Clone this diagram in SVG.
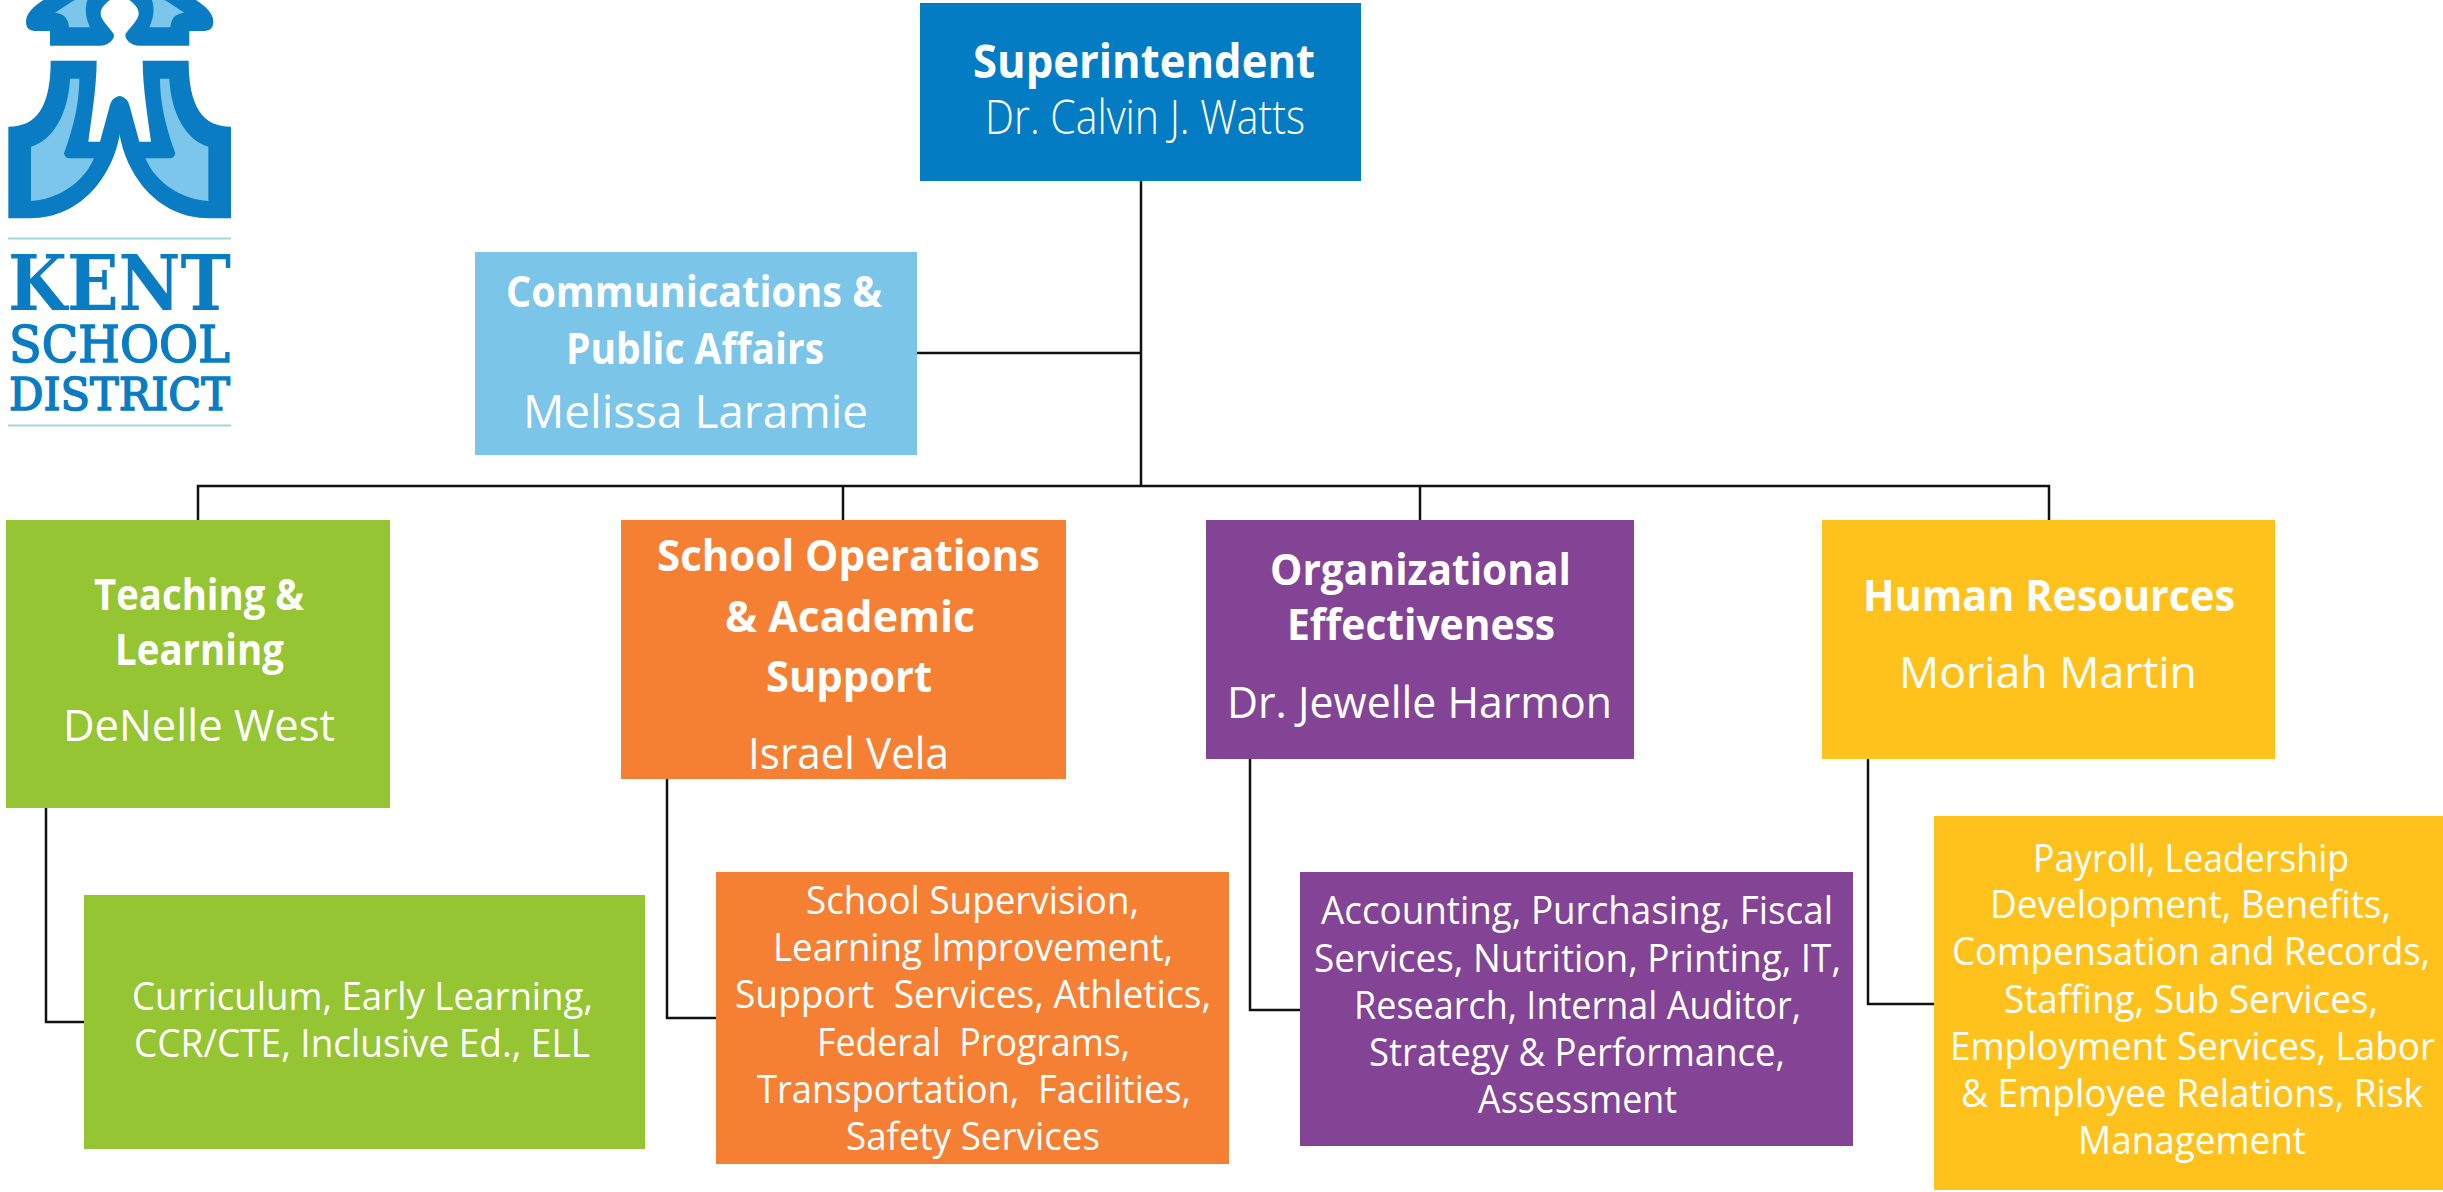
<svg xmlns="http://www.w3.org/2000/svg" width="2443" height="1192" viewBox="0 0 2443 1192">
<style>
text{font-family:"Open Sans","Noto Sans","Liberation Sans",sans-serif;fill:#fff;white-space:pre}
.h{font-weight:700;font-size:43px}
.n{font-weight:400;font-size:44px}
.l{font-weight:300;font-size:48px}
.s{font-weight:400;font-size:37.500px}
.c{fill:none;stroke:#111;stroke-width:2.5}
.d{fill:#0a7cc4}.f{fill:#7bc6ea}
.g text{font-family:"DejaVu Serif","Liberation Serif",serif;font-weight:400;fill:#0a7cc4;stroke:#0a7cc4;stroke-width:1.6}
</style>
<g id="logo" class="g">
<g transform="scale(0.33333)">
<g id="half"><path class="d" d="M130 0C100 20 78 40 78 65C78 85 90 93 110 93L150 93L150 137L300 137C325 137 342 120 342 105C340 95 300 60 302 40C303 20 320 8 330 0Z"/><path class="f" d="M215 5L165 38C190 42 200 50 205 70L207 82L270 82C258 55 253 30 262 0L225 0Z"/><path class="d" d="M152 182L290 182C290 260 275 350 265 425L300 425L330 315C335 298 345 290 360 288L360 400C340 520 250 655 90 655L25 655L25 380C110 380 152 320 152 182Z"/><path class="f" d="M210 236L238 236C238 300 225 370 192 460C195 472 200 475 210 475L282 475C250 550 170 600 93 603L93 440C160 420 205 340 210 236Z"/></g>
<use href="#half" transform="matrix(-1 0 0 1 718 0)"/>
</g>
<rect x="8" y="237.500" width="223" height="2" fill="#a3d3df"/>
<rect x="8" y="424.500" width="223" height="2" fill="#a3d3df"/>
<text x="8" y="310" textLength="223" lengthAdjust="spacingAndGlyphs" style="font-size:77px;font-weight:700;stroke-width:0">KENT</text>
<text x="9" y="362" textLength="221" lengthAdjust="spacingAndGlyphs" style="font-size:51px">SCHOOL</text>
<text x="9" y="410" textLength="221" lengthAdjust="spacingAndGlyphs" style="font-size:45px">DISTRICT</text>
</g>
<g id="connectors">
<path class="c" d="M1141 181V486M917 353H1141M198 520V486H2049V520M843 486V520M1420 486V520"/>
<path class="c" d="M46 808V1022H84M667 779V1018H716M1250 759V1010H1300M1868 759V1004H1934"/>
</g>
<g id="superintendent"><rect x="920" y="3" width="441" height="178" fill="#047cc4"/>
<text class="h" style="font-size:46px" x="973" y="78" textLength="342" lengthAdjust="spacingAndGlyphs">Superintendent</text>
<text class="l" x="985" y="134" textLength="320" lengthAdjust="spacingAndGlyphs">Dr. Calvin J. Watts</text></g>
<g id="communications"><rect x="475" y="252" width="442" height="203" fill="#7ac5e8"/>
<text class="h" x="506" y="307" textLength="376" lengthAdjust="spacingAndGlyphs">Communications &amp;</text>
<text class="h" x="566" y="364" textLength="258" lengthAdjust="spacingAndGlyphs">Public Affairs</text>
<text class="n" style="font-size:46px" x="523" y="428" textLength="345" lengthAdjust="spacingAndGlyphs">Melissa Laramie</text></g>
<g id="teaching"><rect x="6" y="520" width="384" height="288" fill="#95c533"/>
<text class="h" x="94" y="610" textLength="210" lengthAdjust="spacingAndGlyphs">Teaching &amp;</text>
<text class="h" x="115" y="665" textLength="169" lengthAdjust="spacingAndGlyphs">Learning</text>
<text class="n" x="63" y="741" textLength="272" lengthAdjust="spacingAndGlyphs">DeNelle West</text></g>
<g id="teaching-units"><rect x="84" y="895" width="561" height="254" fill="#95c533"/>
<text class="s" x="132" y="1010" textLength="461" lengthAdjust="spacingAndGlyphs">Curriculum, Early Learning,</text>
<text class="s" x="134" y="1057" textLength="456" lengthAdjust="spacingAndGlyphs">CCR/CTE, Inclusive Ed., ELL</text></g>
<g id="operations"><rect x="621" y="520" width="445" height="259" fill="#f58033"/>
<text class="h" x="657" y="571" textLength="383" lengthAdjust="spacingAndGlyphs">School Operations</text>
<text class="h" x="725" y="632" textLength="250" lengthAdjust="spacingAndGlyphs">&amp; Academic</text>
<text class="h" x="766" y="692" textLength="166" lengthAdjust="spacingAndGlyphs">Support</text>
<text class="n" x="748" y="769" textLength="201" lengthAdjust="spacingAndGlyphs">Israel Vela</text></g>
<g id="operations-units"><rect x="716" y="872" width="513" height="292" fill="#f58033"/>
<text class="s" x="806" y="914" textLength="333" lengthAdjust="spacingAndGlyphs">School Supervision,</text>
<text class="s" x="773" y="961" textLength="400" lengthAdjust="spacingAndGlyphs">Learning Improvement,</text>
<text class="s" x="735" y="1008" textLength="476" lengthAdjust="spacingAndGlyphs">Support  Services, Athletics,</text>
<text class="s" x="817" y="1056" textLength="313" lengthAdjust="spacingAndGlyphs">Federal  Programs,</text>
<text class="s" x="757" y="1103" textLength="434" lengthAdjust="spacingAndGlyphs">Transportation,  Facilities,</text>
<text class="s" x="846" y="1150" textLength="254" lengthAdjust="spacingAndGlyphs">Safety Services</text></g>
<g id="effectiveness"><rect x="1206" y="520" width="428" height="239" fill="#834496"/>
<text class="h" x="1270" y="585" textLength="301" lengthAdjust="spacingAndGlyphs">Organizational</text>
<text class="h" x="1287" y="640" textLength="268" lengthAdjust="spacingAndGlyphs">Effectiveness</text>
<text class="n" x="1227" y="718" textLength="385" lengthAdjust="spacingAndGlyphs">Dr. Jewelle Harmon</text></g>
<g id="effectiveness-units"><rect x="1300" y="872" width="553" height="274" fill="#834496"/>
<text class="s" x="1321" y="924" textLength="512" lengthAdjust="spacingAndGlyphs">Accounting, Purchasing, Fiscal</text>
<text class="s" x="1314" y="972" textLength="527" lengthAdjust="spacingAndGlyphs">Services, Nutrition, Printing, IT,</text>
<text class="s" x="1354" y="1019" textLength="447" lengthAdjust="spacingAndGlyphs">Research, Internal Auditor,</text>
<text class="s" x="1369" y="1066" textLength="416" lengthAdjust="spacingAndGlyphs">Strategy &amp; Performance,</text>
<text class="s" x="1478" y="1113" textLength="199" lengthAdjust="spacingAndGlyphs">Assessment</text></g>
<g id="human-resources"><rect x="1822" y="520" width="453" height="239" fill="#ffc21c"/>
<text class="h" x="1863" y="611" textLength="372" lengthAdjust="spacingAndGlyphs">Human Resources</text>
<text class="n" x="1899" y="688" textLength="298" lengthAdjust="spacingAndGlyphs">Moriah Martin</text></g>
<g id="human-resources-units"><rect x="1934" y="816" width="509" height="374" fill="#ffc21c"/>
<text class="s" x="2033" y="872" textLength="316" lengthAdjust="spacingAndGlyphs">Payroll, Leadership</text>
<text class="s" x="1990" y="918" textLength="401" lengthAdjust="spacingAndGlyphs">Development, Benefits,</text>
<text class="s" x="1952" y="965" textLength="478" lengthAdjust="spacingAndGlyphs">Compensation and Records,</text>
<text class="s" x="2004" y="1013" textLength="374" lengthAdjust="spacingAndGlyphs">Staffing, Sub Services,</text>
<text class="s" x="1950" y="1060" textLength="485" lengthAdjust="spacingAndGlyphs">Employment Services, Labor</text>
<text class="s" x="1961" y="1107" textLength="462" lengthAdjust="spacingAndGlyphs">&amp; Employee Relations, Risk</text>
<text class="s" x="2078" y="1154" textLength="228" lengthAdjust="spacingAndGlyphs">Management</text></g>
</svg>
